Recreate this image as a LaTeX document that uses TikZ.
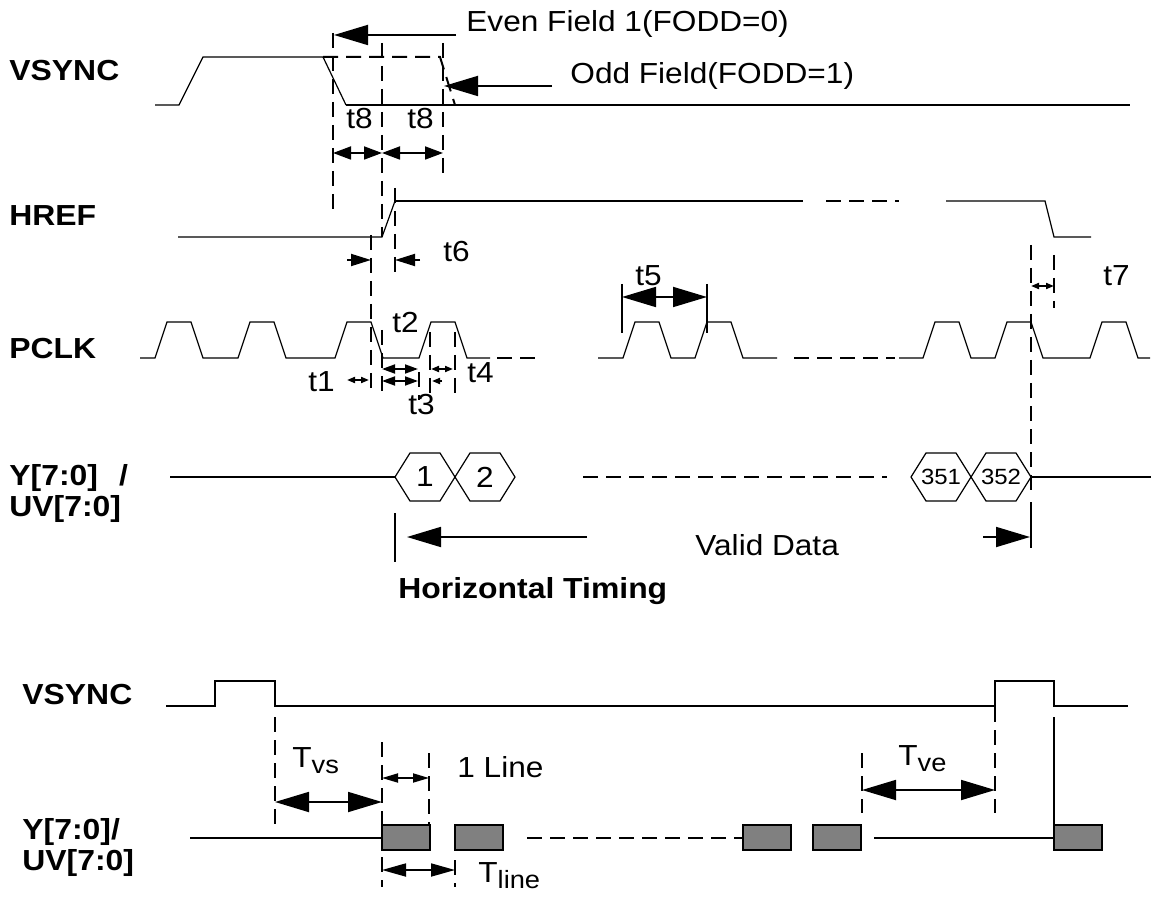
\documentclass[tikz,border=0pt]{standalone}
\usepackage{fontspec}
\setmainfont{Liberation Sans}[FakeStretch=1.09,BoldFeatures={FakeStretch=1.1}]
\usepackage{tikz}
\usetikzlibrary{arrows.meta}

\begin{document}
\begin{tikzpicture}[x=0.5pt,y=-0.5pt,
  sig/.style={line width=0.6pt},
  sigb/.style={line width=1pt},
  dsh/.style={line width=1pt,dash pattern=on 7.5pt off 4pt},
  twoway/.style 2 args={line width=0.9pt,arrows={Triangle[length=#1,width=#2]-Triangle[length=#1,width=#2]}},
  oneway/.style 2 args={line width=0.9pt,arrows={-Triangle[length=#1,width=#2]}},
  lbl/.style={font=\bfseries\fontsize{14.5}{17}\selectfont,inner sep=0pt,anchor=base west},
  txt/.style={font=\fontsize{14.5}{17}\selectfont,inner sep=0pt,anchor=base west},
  num/.style={font=\fontsize{14.5}{17}\selectfont,inner sep=0pt},
  nums/.style={font=\fontsize{11}{13}\selectfont,inner sep=0pt}]
  \useasboundingbox (0,0) rectangle (1154,897);

  \node[lbl] (vsync) at (9,81) {VSYNC};
  \node[lbl] (href) at (9,226) {HREF};
  \node[lbl] (pclk) at (9,359) {PCLK};
  \node[lbl] (data) at (9,485) {Y[7:0]\hspace{10.5pt}/};
  \node[lbl] (datauv) at (9,516) {UV[7:0]};
  \node[lbl] (htiming) at (398,598) {Horizontal Timing};
  \node[lbl] (vsyncb) at (22,704) {VSYNC};
  \node[lbl] (datab) at (22,839) {Y[7:0]/};
  \node[lbl] (datauvb) at (22,870) {UV[7:0]};

  \draw[sig] (155,105) -- (179,105) -- (203,57) -- (323,57) -- (346,105);
  \draw[sigb] (346,105) -- (1130,105);
  \draw[dsh] (323,57) -- (440,57) -- (455,105);
  \draw[dsh] (333,33) -- (333,213);
  \draw[dsh] (382,43) -- (382,237);
  \draw[dsh] (443,43) -- (443,180);
  \node[txt] (even) at (466,32) {Even Field 1(FODD=0)};
  \node[txt] (odd) at (570,84) {Odd Field(FODD=1)};
  \draw[oneway={17pt}{10pt}] (456,35) -- (334,35);
  \draw[oneway={17pt}{10pt}] (552,86) -- (444,86);
  \node[txt] (t8a) at (346,129) {t8};
  \node[txt] (t8b) at (407,129) {t8};
  \draw[twoway={9pt}{6.5pt}] (333,153) -- (382,153);
  \draw[twoway={9pt}{6.5pt}] (382,153) -- (443,153);

  \draw[sig] (178,237) -- (382,237) -- (395,201);
  \draw[sigb] (395,201) -- (803,201);
  \draw[dsh] (826,201) -- (899,201);
  \draw[sig] (946,201) -- (1045,201) -- (1054,237) -- (1091,237);
  \draw[dsh] (371,235) -- (371,393);
  \draw[dsh] (395,188) -- (395,273);
  \draw[oneway={10pt}{6pt}] (347,260) -- (371,260);
  \draw[oneway={10pt}{6pt}] (420,260) -- (395,260);
  \node[txt] (t6) at (443,262) {t6};

  \draw[sig] (140,358) \foreach \x in {155,238,335,419} {-- (\x,358) -- ++(12,-36) -- ++(24,0) -- ++(12,36)} -- (490,358);
  \draw[dsh] (497,358) -- (538,358);
  \draw[sig] (598,358) \foreach \x in {623,695} {-- (\x,358) -- ++(12,-36) -- ++(24,0) -- ++(12,36)} -- (777,358);
  \draw[dsh] (794,358) -- (895,358);
  \draw[sig] (899,358) \foreach \x in {923,995,1090} {-- (\x,358) -- ++(12,-36) -- ++(24,0) -- ++(12,36)} -- (1150,358);
  \draw[dsh] (382,330) -- (382,393);
  \draw[dsh] (419,372) -- (419,400);
  \draw[dsh] (430,332) -- (430,393);
  \draw[dsh] (455,332) -- (455,393);
  \draw[twoway={4pt}{3pt}] (347,380) -- (369,380);
  \draw[twoway={6.5pt}{4.5pt}] (382,369) -- (418,369);
  \draw[twoway={6.5pt}{4.5pt}] (382,381) -- (418,381);
  \draw[twoway={4pt}{3pt}] (431,369) -- (453,369);
  \draw[oneway={4pt}{3pt}] (442,381) -- (432,381);
  \node[txt] (t1) at (308,392) {t1};
  \node[txt] (t2) at (392,333) {t2};
  \node[txt] (t3) at (408,415) {t3};
  \node[txt] (t4) at (467,382) {t4};
  \draw[sig] (622,284) -- (622,333);
  \draw[sig] (707,284) -- (707,333);
  \draw[twoway={17pt}{10pt}] (622,297) -- (707,297);
  \node[txt] (t5) at (635,286) {t5};
  \draw[dsh] (1031,245) -- (1031,490);
  \draw[dsh] (1054,255) -- (1054,308);
  \draw[twoway={4pt}{3pt}] (1031,286) -- (1054,286);
  \node[txt] (t7) at (1103,286) {t7};

  \draw[sigb] (170,477) -- (395,477);
  \foreach \x in {395,455,911,971}
    \draw[sig] (\x,477) -- ++(15,-24) -- ++(30,0) -- ++(15,24) -- ++(-15,24) -- ++(-30,0) -- cycle;
  \node[num] (d1) at (425,477) {1};
  \node[num] (d2) at (485,477) {2};
  \node[nums] (d351) at (941,477) {351};
  \node[nums] (d352) at (1001,477) {352};
  \draw[dsh] (583,477) -- (887,477);
  \draw[sigb] (1031,477) -- (1151,477);
  \draw[sigb] (395,513) -- (395,562);
  \draw[sigb] (1031,502) -- (1031,548);
  \draw[oneway={17pt}{10pt}] (587,537) -- (407,537);
  \draw[oneway={17pt}{10pt}] (983,537) -- (1030,537);
  \node[txt] (valid) at (695,555) {Valid Data};

  \draw[sigb] (166,706) -- (215,706) -- (215,681) -- (275,681) -- (275,706) -- (995,706) -- (995,681) -- (1054,681) -- (1054,706) -- (1128,706);
  \draw[dsh] (275,717) -- (275,825);
  \draw[dsh] (382,742) -- (382,887);
  \draw[dsh] (429,753) -- (429,825);
  \draw[dsh] (455,860) -- (455,887);
  \draw[dsh] (862,753) -- (862,813);
  \draw[dsh] (995,707) -- (995,813);
  \draw[sigb] (1054,717) -- (1054,838);
  \draw[sigb] (190,838) -- (382,838);
  \draw[dsh] (527,838) -- (743,838);
  \draw[sigb] (874,838) -- (1054,838);
  \foreach \x in {382,455,743,813,1054}
    \filldraw[sigb,fill=gray] (\x,825) rectangle ++(48,25);
  \draw[twoway={17pt}{10pt}] (275,802) -- (382,802);
  \draw[twoway={8pt}{4.5pt}] (382,778) -- (429,778);
  \draw[twoway={12pt}{6.5pt}] (382,870) -- (455,870);
  \draw[twoway={17pt}{10pt}] (862,790) -- (995,790);
  \node[txt] (tvs) at (292,767) {T\raisebox{-3pt}{\fontsize{12.5}{13}\selectfont vs}};
  \node[txt] (oneline) at (457,777) {1 Line};
  \node[txt] (tve) at (898,765) {T\raisebox{-3pt}{\fontsize{12.5}{13}\selectfont ve}};
  \node[txt] (tline) at (478,882) {T\raisebox{-3pt}{\fontsize{12.5}{13}\selectfont line}};
\end{tikzpicture}
\end{document}
